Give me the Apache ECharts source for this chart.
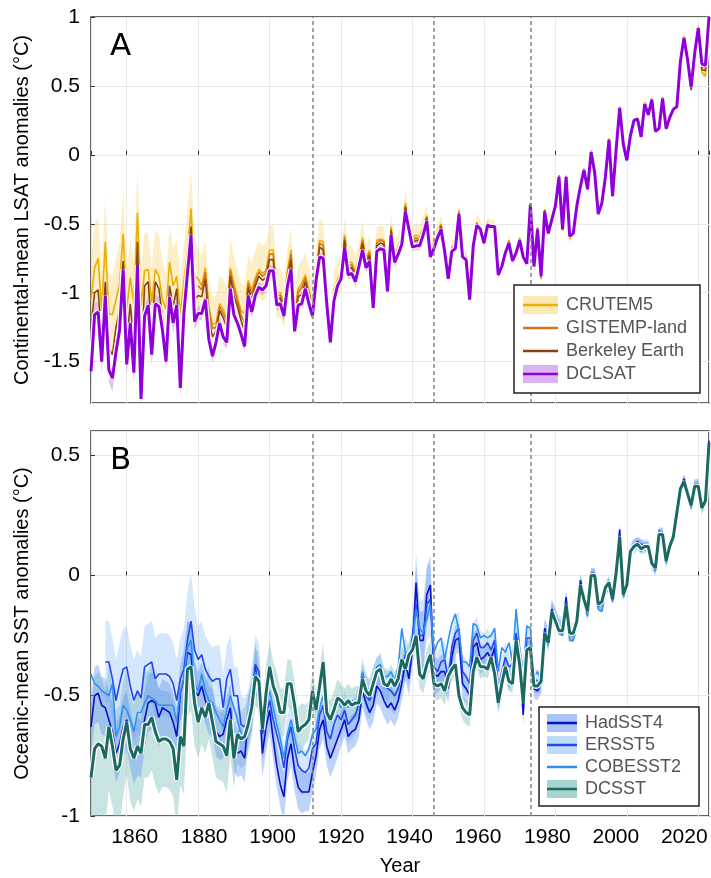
<!DOCTYPE html>
<html>
<head>
<meta charset="utf-8">
<script src="https://cdn.jsdelivr.net/npm/echarts/dist/echarts.min.js"></script>
<style>
  html, body { margin: 0; padding: 0; background: #fff; }
  #chart { width: 711px; height: 878px; }
</style>
</head>
<body>
<div id="chart"></div>
<script>
// years 1850..2023, one value per year
const years = Array.from({ length: 174 }, (_, i) => 1850 + i);
const tickYears = [1860, 1880, 1900, 1920, 1940, 1960, 1980, 2000, 2020];
const breakYears = [1912, 1946, 1973];

// ---- panel A: land surface air temperature ----
const dclsat = [
  -1.57, -1.16, -1.14, -1.50, -1.02, -1.56, -1.62, -1.43, -1.27, -0.83,
  -1.52, -1.22, -1.58, -0.80, -1.77, -1.17, -1.09, -1.45, -1.08, -1.10,
  -1.27, -1.50, -1.03, -1.22, -1.09, -1.69, -1.15, -0.86, -0.58, -1.21,
  -1.15, -1.15, -1.05, -1.34, -1.46, -1.36, -1.22, -1.32, -1.36, -0.97,
  -1.16, -1.22, -1.30, -1.39, -1.02, -1.14, -1.02, -0.96, -0.98, -0.95,
  -0.84, -0.84, -1.09, -1.08, -1.17, -0.95, -0.83, -1.28, -1.09, -1.08,
  -0.97, -1.08, -1.17, -0.91, -0.74, -0.75, -1.08, -1.36, -1.06, -0.95,
  -0.90, -0.67, -0.87, -0.86, -0.92, -0.81, -0.69, -0.82, -0.77, -1.11,
  -0.70, -0.68, -0.69, -0.99, -0.58, -0.78, -0.72, -0.65, -0.41, -0.54,
  -0.67, -0.66, -0.66, -0.58, -0.48, -0.74, -0.68, -0.60, -0.54, -0.70,
  -0.90, -0.70, -0.68, -0.43, -0.74, -0.76, -1.05, -0.66, -0.51, -0.54,
  -0.64, -0.51, -0.52, -0.52, -0.87, -0.81, -0.71, -0.64, -0.77, -0.71,
  -0.62, -0.74, -0.79, -0.36, -0.81, -0.54, -0.88, -0.41, -0.57, -0.47,
  -0.37, -0.16, -0.54, -0.16, -0.59, -0.57, -0.37, -0.23, -0.11, -0.25,
  0.02, -0.13, -0.43, -0.35, -0.16, 0.11, -0.30, 0.04, 0.34, 0.08,
  -0.04, 0.14, 0.25, 0.26, 0.13, 0.37, 0.29, 0.40, 0.17, 0.19,
  0.41, 0.19, 0.27, 0.33, 0.35, 0.68, 0.85, 0.69, 0.49, 0.74,
  0.92, 0.66, 0.65, 1.00
];
const dclsatUnc = [
  0.08, 0.08, 0.08, 0.09, 0.08, 0.09, 0.10, 0.08, 0.08, 0.07,
  0.08, 0.07, 0.08, 0.07, 0.09, 0.07, 0.07, 0.08, 0.07, 0.07,
  0.07, 0.07, 0.06, 0.07, 0.06, 0.08, 0.06, 0.06, 0.06, 0.06,
  0.05, 0.05, 0.05, 0.05, 0.05, 0.05, 0.05, 0.05, 0.05, 0.05,
  0.04, 0.04, 0.04, 0.04, 0.04, 0.04, 0.04, 0.04, 0.04, 0.04,
  0.04, 0.04, 0.04, 0.04, 0.04, 0.03, 0.03, 0.03, 0.03, 0.03,
  0.03, 0.03, 0.03, 0.03, 0.03, 0.03, 0.03, 0.03, 0.03, 0.03,
  0.03, 0.03, 0.03, 0.03, 0.03, 0.03, 0.03, 0.03, 0.03, 0.03,
  0.03, 0.03, 0.03, 0.03, 0.03, 0.03, 0.03, 0.03, 0.03, 0.03,
  0.03, 0.03, 0.03, 0.03, 0.03, 0.03, 0.02, 0.02, 0.02, 0.02,
  0.02, 0.02, 0.02, 0.02, 0.02, 0.02, 0.02, 0.02, 0.02, 0.02,
  0.02, 0.02, 0.02, 0.02, 0.02, 0.02, 0.02, 0.02, 0.02, 0.02,
  0.02, 0.02, 0.02, 0.02, 0.02, 0.02, 0.02, 0.02, 0.02, 0.02,
  0.02, 0.02, 0.02, 0.02, 0.02, 0.02, 0.02, 0.02, 0.02, 0.02,
  0.02, 0.02, 0.02, 0.02, 0.02, 0.02, 0.02, 0.02, 0.02, 0.02,
  0.02, 0.02, 0.02, 0.02, 0.02, 0.02, 0.02, 0.02, 0.02, 0.02,
  0.02, 0.02, 0.02, 0.02, 0.02, 0.02, 0.02, 0.02, 0.02, 0.02,
  0.02, 0.02, 0.02, 0.02
];
const crutem5 = [
  -1.05, -0.82, -0.75, -1.13, -0.63, -1.15, -1.16, -1.05, -0.94, -0.57,
  -1.12, -0.89, -1.08, -0.42, -1.10, -0.84, -0.83, -1.07, -0.83, -0.88,
  -1.05, -1.12, -0.78, -0.95, -0.88, -1.15, -0.92, -0.70, -0.39, -0.88,
  -0.90, -0.95, -0.82, -1.10, -1.23, -1.22, -1.08, -1.12, -1.18, -0.82,
  -0.93, -1.03, -1.13, -1.15, -0.91, -0.98, -0.89, -0.83, -0.86, -0.84,
  -0.69, -0.69, -1.00, -1.00, -1.08, -0.84, -0.69, -1.13, -0.97, -0.93,
  -0.87, -0.98, -1.07, -0.86, -0.62, -0.63, -1.01, -1.25, -0.98, -0.91,
  -0.84, -0.58, -0.78, -0.78, -0.85, -0.75, -0.60, -0.75, -0.69, -1.02,
  -0.62, -0.61, -0.62, -0.92, -0.52, -0.73, -0.67, -0.60, -0.35, -0.50,
  -0.60, -0.58, -0.60, -0.52, -0.44, -0.68, -0.63, -0.56, -0.50, -0.66,
  -0.87, -0.67, -0.65, -0.40, -0.71, -0.74, -1.03, -0.63, -0.49, -0.52,
  -0.62, -0.49, -0.51, -0.51, -0.86, -0.80, -0.70, -0.62, -0.75, -0.69,
  -0.61, -0.73, -0.78, -0.35, -0.81, -0.53, -0.90, -0.40, -0.56, -0.46,
  -0.36, -0.15, -0.55, -0.15, -0.61, -0.57, -0.36, -0.22, -0.10, -0.25,
  0.03, -0.12, -0.42, -0.34, -0.15, 0.12, -0.29, 0.05, 0.35, 0.09,
  -0.03, 0.15, 0.25, 0.27, 0.14, 0.38, 0.30, 0.41, 0.18, 0.20,
  0.42, 0.20, 0.28, 0.34, 0.36, 0.69, 0.86, 0.70, 0.48, 0.75,
  0.93, 0.60, 0.57, 1.00
];
const crutem5Unc = [
  0.30, 0.32, 0.30, 0.30, 0.32, 0.30, 0.28, 0.30, 0.30, 0.32,
  0.28, 0.28, 0.30, 0.32, 0.28, 0.28, 0.26, 0.26, 0.28, 0.30,
  0.28, 0.26, 0.26, 0.28, 0.26, 0.26, 0.26, 0.28, 0.30, 0.28,
  0.22, 0.22, 0.20, 0.20, 0.20, 0.20, 0.20, 0.22, 0.22, 0.22,
  0.20, 0.20, 0.20, 0.20, 0.18, 0.20, 0.20, 0.20, 0.20, 0.20,
  0.18, 0.18, 0.18, 0.18, 0.18, 0.16, 0.16, 0.16, 0.16, 0.16,
  0.16, 0.16, 0.16, 0.16, 0.16, 0.14, 0.14, 0.14, 0.14, 0.14,
  0.12, 0.12, 0.12, 0.12, 0.12, 0.12, 0.12, 0.10, 0.10, 0.10,
  0.10, 0.10, 0.10, 0.10, 0.10, 0.10, 0.10, 0.10, 0.10, 0.09,
  0.08, 0.08, 0.08, 0.08, 0.08, 0.08, 0.06, 0.06, 0.06, 0.06,
  0.05, 0.05, 0.05, 0.05, 0.05, 0.05, 0.05, 0.05, 0.05, 0.05,
  0.04, 0.04, 0.04, 0.04, 0.04, 0.04, 0.04, 0.04, 0.04, 0.04,
  0.04, 0.04, 0.04, 0.04, 0.04, 0.04, 0.04, 0.04, 0.04, 0.04,
  0.03, 0.03, 0.03, 0.03, 0.03, 0.03, 0.03, 0.03, 0.03, 0.03,
  0.03, 0.03, 0.03, 0.03, 0.03, 0.03, 0.03, 0.03, 0.03, 0.03,
  0.02, 0.02, 0.02, 0.02, 0.02, 0.02, 0.02, 0.02, 0.02, 0.02,
  0.02, 0.02, 0.02, 0.02, 0.02, 0.02, 0.02, 0.02, 0.02, 0.02,
  0.03, 0.03, 0.03, 0.03
];
const gistempLand = [
  null, null, null, null, null, null, null, null, null, null,
  null, null, null, null, null, null, null, null, null, null,
  null, null, null, null, null, null, null, null, null, null,
  -0.95, -0.98, -0.85, -1.13, -1.26, -1.25, -1.10, -1.15, -1.20, -0.84,
  -0.97, -1.06, -1.16, -1.22, -0.93, -1.01, -0.92, -0.85, -0.88, -0.86,
  -0.72, -0.72, -1.02, -1.02, -1.10, -0.86, -0.72, -1.16, -1.00, -0.96,
  -0.89, -1.00, -1.10, -0.87, -0.64, -0.66, -1.02, -1.27, -1.00, -0.92,
  -0.85, -0.60, -0.80, -0.80, -0.86, -0.76, -0.62, -0.76, -0.71, -1.04,
  -0.64, -0.62, -0.63, -0.93, -0.54, -0.74, -0.68, -0.61, -0.37, -0.51,
  -0.62, -0.60, -0.62, -0.54, -0.45, -0.70, -0.64, -0.57, -0.51, -0.67,
  -0.88, -0.68, -0.66, -0.42, -0.72, -0.75, -1.03, -0.65, -0.50, -0.53,
  -0.63, -0.50, -0.51, -0.51, -0.86, -0.80, -0.70, -0.63, -0.76, -0.70,
  -0.61, -0.74, -0.78, -0.36, -0.80, -0.54, -0.88, -0.41, -0.57, -0.47,
  -0.37, -0.16, -0.54, -0.16, -0.59, -0.57, -0.37, -0.23, -0.11, -0.25,
  0.02, -0.13, -0.43, -0.35, -0.16, 0.11, -0.30, 0.04, 0.34, 0.08,
  -0.04, 0.14, 0.25, 0.26, 0.13, 0.37, 0.29, 0.40, 0.17, 0.19,
  0.41, 0.19, 0.27, 0.33, 0.35, 0.68, 0.85, 0.69, 0.49, 0.74,
  0.92, 0.64, 0.63, 1.00
];
const berkeley = [
  -1.25, -1.00, -0.98, -1.35, -0.92, -1.40, -1.45, -1.25, -1.12, -0.77,
  -1.35, -1.08, -1.38, -0.63, -1.55, -0.95, -0.92, -1.28, -0.92, -0.97,
  -1.18, -1.35, -0.95, -1.10, -0.97, -1.45, -1.05, -0.78, -0.52, -1.05,
  -1.02, -1.03, -0.90, -1.20, -1.32, -1.28, -1.13, -1.18, -1.25, -0.88,
  -1.02, -1.10, -1.20, -1.28, -0.96, -1.05, -0.95, -0.88, -0.91, -0.89,
  -0.76, -0.76, -1.04, -1.04, -1.12, -0.89, -0.76, -1.20, -1.03, -1.01,
  -0.92, -1.03, -1.12, -0.88, -0.67, -0.69, -1.04, -1.30, -1.02, -0.93,
  -0.87, -0.62, -0.82, -0.82, -0.88, -0.78, -0.64, -0.78, -0.73, -1.06,
  -0.66, -0.64, -0.65, -0.95, -0.55, -0.75, -0.69, -0.62, -0.38, -0.52,
  -0.64, -0.62, -0.63, -0.55, -0.46, -0.71, -0.65, -0.58, -0.52, -0.68,
  -0.89, -0.69, -0.67, -0.42, -0.73, -0.75, -1.04, -0.65, -0.50, -0.53,
  -0.63, -0.50, -0.51, -0.51, -0.86, -0.80, -0.70, -0.63, -0.76, -0.70,
  -0.61, -0.73, -0.78, -0.35, -0.80, -0.53, -0.89, -0.40, -0.56, -0.46,
  -0.36, -0.15, -0.54, -0.16, -0.59, -0.56, -0.36, -0.22, -0.11, -0.24,
  0.02, -0.13, -0.42, -0.35, -0.16, 0.11, -0.30, 0.05, 0.34, 0.08,
  -0.04, 0.14, 0.25, 0.26, 0.13, 0.37, 0.29, 0.40, 0.17, 0.19,
  0.41, 0.19, 0.27, 0.33, 0.35, 0.68, 0.85, 0.69, 0.47, 0.74,
  0.92, 0.62, 0.61, 1.00
];

// ---- panel B: sea surface temperature ----
const hadsst4 = [
  -0.63, -0.50, -0.49, -0.54, -0.55, -0.60, -0.65, -0.74, -0.70, -0.63,
  -0.60, -0.68, -0.75, -0.71, -0.72, -0.60, -0.53, -0.52, -0.53, -0.59,
  -0.55, -0.56, -0.57, -0.61, -0.67, -0.49, -0.43, -0.32, -0.33, -0.48,
  -0.50, -0.46, -0.52, -0.56, -0.57, -0.65, -0.67, -0.66, -0.60, -0.55,
  -0.71, -0.74, -0.73, -0.76, -0.60, -0.55, -0.38, -0.49, -0.74, -0.63,
  -0.56, -0.68, -0.79, -0.87, -0.92, -0.76, -0.70, -0.81, -0.88, -0.90,
  -0.90, -0.90, -0.82, -0.75, -0.64, -0.60, -0.71, -0.76, -0.72, -0.68,
  -0.64, -0.60, -0.67, -0.65, -0.64, -0.60, -0.48, -0.53, -0.57, -0.54,
  -0.46, -0.48, -0.52, -0.55, -0.53, -0.56, -0.52, -0.45, -0.36, -0.43,
  -0.30, -0.03, -0.27, -0.27, -0.08, -0.04, -0.41, -0.42, -0.40, -0.40,
  -0.47, -0.34, -0.27, -0.26, -0.45, -0.47, -0.50, -0.30, -0.28, -0.35,
  -0.34, -0.32, -0.35, -0.30, -0.52, -0.45, -0.38, -0.43, -0.40, -0.28,
  -0.37, -0.58, -0.30, -0.31, -0.47, -0.48, -0.45, -0.22, -0.27, -0.14,
  -0.17, -0.21, -0.22, -0.09, -0.24, -0.25, -0.20, -0.02, -0.09, -0.15,
  0.01, 0.01, -0.13, -0.12, -0.06, -0.03, -0.10, 0.02, 0.19, -0.08,
  -0.04, 0.10, 0.13, 0.14, 0.13, 0.12, 0.12, 0.05, 0.02, 0.17,
  0.18, 0.06, 0.12, 0.16, 0.26, 0.36, 0.40, 0.36, 0.29, 0.38,
  0.38, 0.29, 0.31, 0.56
];
const hadsst4Unc = [
  0.12, 0.12, 0.12, 0.12, 0.12, 0.12, 0.12, 0.12, 0.12, 0.12,
  0.12, 0.12, 0.12, 0.12, 0.12, 0.12, 0.12, 0.12, 0.12, 0.12,
  0.12, 0.12, 0.12, 0.12, 0.12, 0.12, 0.12, 0.13, 0.13, 0.12,
  0.10, 0.10, 0.10, 0.10, 0.10, 0.10, 0.10, 0.10, 0.10, 0.10,
  0.10, 0.10, 0.10, 0.10, 0.10, 0.10, 0.10, 0.10, 0.10, 0.10,
  0.09, 0.09, 0.09, 0.09, 0.10, 0.09, 0.09, 0.09, 0.09, 0.09,
  0.08, 0.08, 0.08, 0.08, 0.08, 0.08, 0.08, 0.08, 0.08, 0.08,
  0.07, 0.07, 0.07, 0.07, 0.07, 0.07, 0.07, 0.07, 0.07, 0.07,
  0.07, 0.07, 0.07, 0.07, 0.07, 0.07, 0.07, 0.07, 0.07, 0.07,
  0.08, 0.12, 0.12, 0.12, 0.12, 0.12, 0.08, 0.07, 0.07, 0.07,
  0.06, 0.06, 0.06, 0.06, 0.06, 0.06, 0.06, 0.06, 0.06, 0.06,
  0.05, 0.05, 0.05, 0.05, 0.05, 0.05, 0.05, 0.05, 0.05, 0.05,
  0.04, 0.04, 0.04, 0.04, 0.04, 0.04, 0.04, 0.04, 0.04, 0.04,
  0.03, 0.03, 0.03, 0.03, 0.03, 0.03, 0.03, 0.03, 0.03, 0.03,
  0.02, 0.02, 0.02, 0.02, 0.02, 0.02, 0.02, 0.02, 0.02, 0.02,
  0.02, 0.02, 0.02, 0.02, 0.02, 0.02, 0.02, 0.02, 0.02, 0.02,
  0.02, 0.02, 0.02, 0.02, 0.02, 0.02, 0.02, 0.02, 0.02, 0.02,
  0.02, 0.02, 0.02, 0.02
];
const ersst5 = [
  null, null, null, null, -0.36, -0.36, -0.43, -0.52, -0.45, -0.39,
  -0.38, -0.46, -0.52, -0.48, -0.51, -0.38, -0.37, -0.36, -0.43, -0.41,
  -0.41, -0.41, -0.42, -0.45, -0.52, -0.43, -0.39, -0.27, -0.19, -0.31,
  -0.35, -0.33, -0.39, -0.42, -0.44, -0.43, -0.43, -0.55, -0.43, -0.39,
  -0.50, -0.50, -0.62, -0.63, -0.60, -0.50, -0.37, -0.40, -0.66, -0.58,
  -0.52, -0.60, -0.66, -0.72, -0.80, -0.68, -0.63, -0.72, -0.79, -0.81,
  -0.82, -0.80, -0.72, -0.70, -0.58, -0.54, -0.65, -0.68, -0.62, -0.58,
  -0.60, -0.56, -0.62, -0.60, -0.58, -0.53, -0.42, -0.50, -0.52, -0.47,
  -0.42, -0.40, -0.46, -0.47, -0.48, -0.50, -0.47, -0.40, -0.33, -0.38,
  -0.25, -0.12, -0.25, -0.25, -0.12, -0.10, -0.38, -0.40, -0.36, -0.35,
  -0.43, -0.30, -0.24, -0.22, -0.40, -0.42, -0.45, -0.27, -0.24, -0.30,
  -0.30, -0.28, -0.31, -0.27, -0.47, -0.40, -0.34, -0.38, -0.37, -0.24,
  -0.33, -0.47, -0.26, -0.26, -0.43, -0.44, -0.44, -0.23, -0.26, -0.15,
  -0.18, -0.21, -0.21, -0.11, -0.23, -0.24, -0.19, -0.04, -0.10, -0.15,
  0.00, 0.00, -0.12, -0.12, -0.05, -0.03, -0.09, 0.02, 0.17, -0.07,
  -0.04, 0.10, 0.12, 0.13, 0.12, 0.12, 0.12, 0.05, 0.03, 0.17,
  0.17, 0.06, 0.12, 0.16, 0.26, 0.35, 0.39, 0.35, 0.29, 0.37,
  0.37, 0.28, 0.31, 0.55
];
const ersst5Unc = [
  null, null, null, null, 0.17, 0.17, 0.17, 0.17, 0.17, 0.17,
  0.17, 0.17, 0.17, 0.17, 0.17, 0.17, 0.17, 0.17, 0.17, 0.17,
  0.17, 0.17, 0.17, 0.17, 0.17, 0.17, 0.17, 0.20, 0.20, 0.18,
  0.14, 0.14, 0.14, 0.14, 0.14, 0.14, 0.14, 0.14, 0.14, 0.14,
  0.12, 0.12, 0.12, 0.12, 0.12, 0.12, 0.12, 0.12, 0.12, 0.12,
  0.10, 0.10, 0.10, 0.10, 0.10, 0.10, 0.10, 0.10, 0.10, 0.10,
  0.09, 0.09, 0.09, 0.09, 0.09, 0.09, 0.09, 0.09, 0.09, 0.09,
  0.08, 0.08, 0.08, 0.08, 0.08, 0.08, 0.08, 0.08, 0.08, 0.08,
  0.08, 0.08, 0.08, 0.08, 0.08, 0.08, 0.08, 0.08, 0.08, 0.08,
  0.08, 0.15, 0.15, 0.15, 0.15, 0.15, 0.08, 0.08, 0.08, 0.08,
  0.07, 0.07, 0.07, 0.07, 0.07, 0.07, 0.07, 0.07, 0.07, 0.07,
  0.06, 0.06, 0.06, 0.06, 0.06, 0.06, 0.06, 0.06, 0.06, 0.06,
  0.05, 0.05, 0.05, 0.05, 0.05, 0.05, 0.05, 0.05, 0.05, 0.05,
  0.04, 0.04, 0.04, 0.04, 0.04, 0.04, 0.04, 0.04, 0.04, 0.04,
  0.03, 0.03, 0.03, 0.03, 0.03, 0.03, 0.03, 0.03, 0.03, 0.03,
  0.03, 0.03, 0.03, 0.03, 0.03, 0.03, 0.03, 0.03, 0.03, 0.03,
  0.03, 0.03, 0.03, 0.03, 0.03, 0.03, 0.03, 0.03, 0.03, 0.03,
  0.03, 0.03, 0.03, 0.03
];
const cobesst2 = [
  -0.41, -0.45, -0.46, -0.48, -0.49, -0.50, -0.45, -0.67, -0.63, -0.54,
  -0.56, -0.60, -0.65, -0.57, -0.57, -0.53, -0.50, -0.51, -0.52, -0.54,
  -0.54, -0.54, -0.54, -0.54, -0.61, -0.48, -0.43, -0.30, -0.27, -0.45,
  -0.48, -0.41, -0.48, -0.52, -0.53, -0.57, -0.60, -0.63, -0.56, -0.50,
  -0.55, -0.60, -0.66, -0.67, -0.58, -0.52, -0.40, -0.45, -0.62, -0.55,
  -0.48, -0.55, -0.62, -0.68, -0.76, -0.66, -0.60, -0.67, -0.74, -0.73,
  -0.75, -0.72, -0.66, -0.64, -0.55, -0.50, -0.59, -0.60, -0.55, -0.52,
  -0.55, -0.52, -0.55, -0.52, -0.53, -0.50, -0.40, -0.46, -0.48, -0.44,
  -0.38, -0.37, -0.42, -0.42, -0.40, -0.44, -0.38, -0.22, -0.32, -0.35,
  -0.28, -0.14, -0.22, -0.24, -0.18, -0.12, -0.32, -0.28, -0.26, -0.35,
  -0.27, -0.20, -0.16, -0.23, -0.36, -0.36, -0.38, -0.20, -0.21, -0.26,
  -0.25, -0.26, -0.25, -0.22, -0.40, -0.30, -0.32, -0.28, -0.36, -0.14,
  -0.30, -0.40, -0.21, -0.22, -0.42, -0.40, -0.44, -0.25, -0.29, -0.16,
  -0.20, -0.24, -0.25, -0.14, -0.27, -0.27, -0.21, -0.06, -0.12, -0.17,
  -0.02, -0.02, -0.14, -0.15, -0.08, -0.05, -0.11, 0.00, 0.15, -0.09,
  -0.06, 0.09, 0.11, 0.12, 0.10, 0.13, 0.11, 0.04, 0.02, 0.19,
  0.16, 0.05, 0.11, 0.17, 0.25, 0.36, 0.39, 0.35, 0.28, 0.37,
  0.37, 0.28, 0.30, 0.55
];
const dcsst = [
  -0.84, -0.72, -0.70, -0.71, -0.76, -0.63, -0.71, -0.81, -0.79, -0.68,
  -0.61, -0.72, -0.76, -0.71, -0.74, -0.62, -0.62, -0.59, -0.65, -0.69,
  -0.68, -0.68, -0.69, -0.72, -0.85, -0.67, -0.71, -0.39, -0.38, -0.53,
  -0.61, -0.55, -0.59, -0.53, -0.61, -0.69, -0.70, -0.71, -0.75, -0.60,
  -0.76, -0.66, -0.68, -0.67, -0.62, -0.55, -0.42, -0.44, -0.64, -0.49,
  -0.38, -0.46, -0.50, -0.57, -0.57, -0.45, -0.45, -0.54, -0.65, -0.63,
  -0.62, -0.60, -0.48, -0.56, -0.46, -0.36, -0.57, -0.60, -0.56, -0.51,
  -0.52, -0.54, -0.52, -0.54, -0.53, -0.53, -0.43, -0.48, -0.50, -0.45,
  -0.40, -0.39, -0.45, -0.46, -0.43, -0.46, -0.43, -0.35, -0.39, -0.33,
  -0.31, -0.25, -0.41, -0.43, -0.37, -0.33, -0.45, -0.46, -0.45, -0.48,
  -0.42, -0.39, -0.37, -0.50, -0.55, -0.57, -0.58, -0.40, -0.34, -0.38,
  -0.38, -0.39, -0.34, -0.41, -0.53, -0.45, -0.38, -0.44, -0.45, -0.27,
  -0.37, -0.53, -0.31, -0.30, -0.46, -0.46, -0.44, -0.24, -0.28, -0.15,
  -0.19, -0.23, -0.23, -0.12, -0.24, -0.24, -0.19, -0.04, -0.10, -0.15,
  0.00, 0.00, -0.12, -0.11, -0.05, -0.03, -0.10, 0.01, 0.16, -0.08,
  -0.04, 0.10, 0.12, 0.13, 0.11, 0.12, 0.12, 0.05, 0.03, 0.17,
  0.17, 0.06, 0.12, 0.16, 0.26, 0.36, 0.39, 0.34, 0.29, 0.37,
  0.37, 0.28, 0.31, 0.55
];
const dcsstUnc = [
  0.30, 0.30, 0.30, 0.28, 0.28, 0.26, 0.25, 0.25, 0.25, 0.24,
  0.22, 0.22, 0.22, 0.22, 0.22, 0.22, 0.22, 0.22, 0.22, 0.22,
  0.20, 0.20, 0.20, 0.20, 0.20, 0.20, 0.20, 0.20, 0.18, 0.18,
  0.15, 0.15, 0.15, 0.15, 0.15, 0.15, 0.15, 0.15, 0.15, 0.15,
  0.12, 0.12, 0.12, 0.12, 0.12, 0.12, 0.12, 0.12, 0.12, 0.12,
  0.10, 0.10, 0.10, 0.10, 0.10, 0.10, 0.10, 0.10, 0.10, 0.10,
  0.08, 0.08, 0.08, 0.08, 0.08, 0.08, 0.08, 0.08, 0.08, 0.08,
  0.07, 0.07, 0.07, 0.07, 0.07, 0.07, 0.07, 0.07, 0.07, 0.07,
  0.06, 0.06, 0.06, 0.06, 0.06, 0.06, 0.06, 0.06, 0.06, 0.06,
  0.06, 0.06, 0.06, 0.06, 0.06, 0.06, 0.06, 0.06, 0.06, 0.06,
  0.05, 0.05, 0.05, 0.05, 0.05, 0.05, 0.05, 0.05, 0.05, 0.05,
  0.04, 0.04, 0.04, 0.04, 0.04, 0.04, 0.04, 0.04, 0.04, 0.04,
  0.03, 0.03, 0.03, 0.03, 0.03, 0.03, 0.03, 0.03, 0.03, 0.03,
  0.02, 0.02, 0.02, 0.02, 0.02, 0.02, 0.02, 0.02, 0.02, 0.02,
  0.02, 0.02, 0.02, 0.02, 0.02, 0.02, 0.02, 0.02, 0.02, 0.02,
  0.02, 0.02, 0.02, 0.02, 0.02, 0.02, 0.02, 0.02, 0.02, 0.02,
  0.02, 0.02, 0.02, 0.02, 0.02, 0.02, 0.02, 0.02, 0.02, 0.02,
  0.02, 0.02, 0.02, 0.02
];

const FONT = 'Liberation Sans, Arial, sans-serif';

const pairs = arr => years.map((y, i) => [y, arr[i]]);

// uncertainty band drawn as one polygon through the axis scales
function band(gi, center, unc, color) {
  return {
    type: 'custom',
    xAxisIndex: gi,
    yAxisIndex: gi,
    silent: true,
    clip: true,
    z: 1,
    data: [[2000, 0]],
    renderItem: (params, api) => {
      const upper = [], lower = [];
      years.forEach((yr, i) => {
        if (center[i] == null) return;
        upper.push(api.coord([yr, center[i] + unc[i]]));
        lower.push(api.coord([yr, center[i] - unc[i]]));
      });
      return {
        type: 'polygon',
        shape: { points: upper.concat(lower.reverse()) },
        style: { fill: color }
      };
    }
  };
}

function line(gi, arr, color, width, z) {
  return {
    type: 'line',
    xAxisIndex: gi,
    yAxisIndex: gi,
    data: pairs(arr),
    showSymbol: false,
    symbol: 'none',
    silent: true,
    z: z || 2,
    lineStyle: { color: color, width: width }
  };
}

function breaks(gi) {
  return {
    type: 'line',
    xAxisIndex: gi,
    yAxisIndex: gi,
    data: [],
    silent: true,
    z: 5,
    markLine: {
      symbol: 'none',
      silent: true,
      label: { show: false },
      lineStyle: { color: '#8c8c8c', type: [4, 3], width: 1.6 },
      data: breakYears.map(y => ({ xAxis: y }))
    }
  };
}

// the year labels sit slightly closer together than their ticks;
// nudge each one sideways with rich-text padding
const yearLabelRich = {};
tickYears.forEach(v => {
  const shift = Math.round((1920 - v) * 0.14);
  yearLabelRich['y' + v] = {
    fontFamily: FONT, fontSize: 21, color: '#000',
    padding: shift >= 0 ? [0, 0, 0, 2 * shift] : [0, -2 * shift, 0, 0]
  };
});

function xAxis(gi, showLabels) {
  return {
    type: 'value',
    gridIndex: gi,
    min: 1850,
    max: 2023,
    minInterval: 20,
    maxInterval: 20,
    name: showLabels ? 'Year' : '',
    nameLocation: 'middle',
    nameGap: 40,
    nameTextStyle: { fontFamily: FONT, fontSize: 20, color: '#000' },
    axisLine: { show: false },
    axisTick: { show: true, inside: true, length: 4, lineStyle: { color: '#333' } },
    axisLabel: {
      show: showLabels, showMinLabel: false, showMaxLabel: false,
      formatter: v => (yearLabelRich['y' + v] ? '{y' + v + '|' + v + '}' : String(v)),
      rich: yearLabelRich,
      fontFamily: FONT, fontSize: 21, color: '#000', margin: 11
    },
    splitLine: { show: true, lineStyle: { color: '#e9e9e9', width: 1 } }
  };
}

function yAxis(gi, min, max, name, hideMin, hideMax) {
  return {
    type: 'value',
    gridIndex: gi,
    min: min,
    max: max,
    minInterval: 0.5,
    maxInterval: 0.5,
    name: name,
    nameLocation: 'middle',
    nameRotate: 90,
    nameGap: 58,
    nameTextStyle: { fontFamily: FONT, fontSize: 20, color: '#000' },
    axisLine: { show: false },
    axisTick: { show: true, inside: true, length: 4, lineStyle: { color: '#333' } },
    axisLabel: {
      showMinLabel: !hideMin, showMaxLabel: !hideMax,
      formatter: v => String(v),
      fontFamily: FONT, fontSize: 21, color: '#000', margin: 11
    },
    splitLine: { show: true, lineStyle: { color: '#e9e9e9', width: 1 } }
  };
}

// legend drawn as graphics: band swatch + line + label
function legendBox(x, y, w, h, items) {
  const els = [{
    type: 'rect', z: 100,
    shape: { x: x, y: y, width: w, height: h },
    style: { fill: '#fff', stroke: '#222', lineWidth: 1.5 }
  }];
  items.forEach(it => {
    if (it.band) {
      els.push({ type: 'rect', z: 101,
        shape: { x: it.ix, y: it.cy - 9, width: it.iw, height: 18 },
        style: { fill: it.band } });
    }
    els.push({ type: 'line', z: 102,
      shape: { x1: it.ix, y1: it.cy, x2: it.ix + it.iw, y2: it.cy },
      style: { stroke: it.color, lineWidth: it.lw } });
    els.push({ type: 'text', z: 102, x: it.ix + it.iw + 8, y: it.cy,
      style: { text: it.label, fontFamily: FONT, fontSize: 18, fill: '#555', verticalAlign: 'middle' } });
  });
  return els;
}

const C = {
  crutem: '#e8b000', crutemBand: 'rgba(246,212,110,0.38)',
  gistemp: '#d4731c', berkeley: '#8a4414',
  dclsat: '#9000d8', dclsatBand: 'rgba(185,100,230,0.38)',
  had: '#0a10c8', hadBand: 'rgba(90,140,245,0.38)',
  ersst: '#2545ee', ersstBand: 'rgba(120,180,245,0.32)',
  cobe: '#2f90f0',
  dcsst: '#1b6a62', dcsstBand: 'rgba(110,185,180,0.38)'
};

const chart = echarts.init(document.getElementById('chart'), null, { renderer: 'canvas' });
chart.setOption({
  animation: false,
  backgroundColor: '#fff',
  grid: [
    { left: 91, top: 17, width: 618, height: 386, containLabel: false, outerBoundsMode: 'none',
      show: true, borderColor: '#333', borderWidth: 1.5, backgroundColor: 'transparent' },
    { left: 91, top: 431, width: 618, height: 385, containLabel: false, outerBoundsMode: 'none',
      show: true, borderColor: '#333', borderWidth: 1.5, backgroundColor: 'transparent' }
  ],
  xAxis: [xAxis(0, false), xAxis(1, true)],
  yAxis: [
    yAxis(0, -1.8, 1, 'Continental-mean LSAT anomalies (°C)', true, false),
    yAxis(1, -1, 0.6, 'Oceanic-mean SST anomalies (°C)', false, true)
  ],
  series: [
    band(0, crutem5, crutem5Unc, C.crutemBand),
    band(0, dclsat, dclsatUnc, C.dclsatBand),
    line(0, crutem5, C.crutem, 1.6),
    line(0, gistempLand, C.gistemp, 1.6),
    line(0, berkeley, C.berkeley, 1.6),
    line(0, dclsat, '#fff', 5.5, 3),
    line(0, dclsat, C.dclsat, 3, 4),
    breaks(0),

    band(1, dcsst, dcsstUnc, C.dcsstBand),
    band(1, ersst5, ersst5Unc, C.ersstBand),
    band(1, hadsst4, hadsst4Unc, C.hadBand),
    line(1, hadsst4, C.had, 1.6),
    line(1, ersst5, C.ersst, 1.6),
    line(1, cobesst2, C.cobe, 1.6),
    line(1, dcsst, '#fff', 5.5, 3),
    line(1, dcsst, C.dcsst, 3, 4),
    breaks(1)
  ],
  graphic: [
    { type: 'text', x: 110, y: 47, z: 100,
      style: { text: 'A', fontFamily: 'DejaVu Sans', fontSize: 31, fill: '#000', verticalAlign: 'middle' } },
    { type: 'text', x: 110, y: 461, z: 100,
      style: { text: 'B', fontFamily: 'DejaVu Sans', fontSize: 31, fill: '#000', verticalAlign: 'middle' } }
  ].concat(
    legendBox(514, 285, 186, 108, [
      { label: 'CRUTEM5', color: C.crutem, band: '#fbe8b3', lw: 2.5, ix: 523, iw: 35, cy: 305 },
      { label: 'GISTEMP-land', color: C.gistemp, lw: 2.5, ix: 523, iw: 35, cy: 328 },
      { label: 'Berkeley Earth', color: C.berkeley, lw: 2.5, ix: 523, iw: 35, cy: 351 },
      { label: 'DCLSAT', color: C.dclsat, band: '#dcb2f0', lw: 2.5, ix: 523, iw: 35, cy: 374 }
    ]),
    legendBox(539, 707, 160, 99, [
      { label: 'HadSST4', color: C.had, band: '#a9c5f7', lw: 2.5, ix: 547, iw: 30, cy: 723 },
      { label: 'ERSST5', color: C.ersst, band: '#bcdcf8', lw: 2.5, ix: 547, iw: 30, cy: 745 },
      { label: 'COBESST2', color: C.cobe, lw: 2.5, ix: 547, iw: 30, cy: 767 },
      { label: 'DCSST', color: C.dcsst, band: '#a8d4d0', lw: 2.5, ix: 547, iw: 30, cy: 789 }
    ])
  )
});
window.addEventListener('resize', () => chart.resize());
</script>
</body>
</html>
